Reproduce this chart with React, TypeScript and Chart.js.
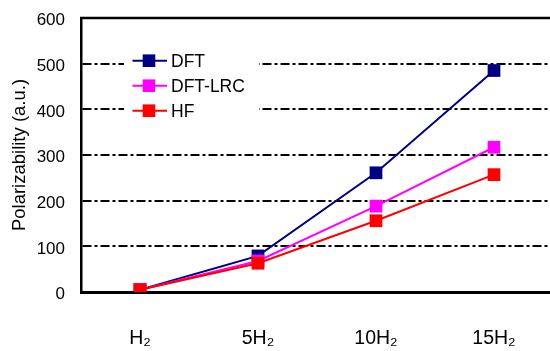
import React, { useEffect, useRef } from "react";
import { Chart, registerables } from "chart.js";

Chart.register(...registerables);

const categories = ["H\u2082", "5H\u2082", "10H\u2082", "15H\u2082"];
const seriesNames = ["DFT", "DFT-LRC", "HF"];
const dftValues = [5, 79, 261, 485];
const dftLrcValues = [5, 68, 188, 317];
const hfValues = [5, 63, 156, 257];
const seriesColors = ["#000080", "#FF00FF", "#FF0000"];
const yTicks = [0, 100, 200, 300, 400, 500, 600];
const yTitle = "Polarizability (a.u.)";

const FONT = "'Liberation Sans', Arial, sans-serif";

const topFrame = {
  id: "topFrame",
  beforeDatasetsDraw(chart: any) {
    const { ctx, chartArea } = chart;
    ctx.save();
    ctx.strokeStyle = "#000";
    ctx.lineWidth = 2.5;
    ctx.setLineDash([]);
    ctx.beginPath();
    ctx.moveTo(chartArea.left - 1, chartArea.top);
    ctx.lineTo(chartArea.right, chartArea.top);
    ctx.stroke();
    ctx.restore();
  },
};

const insideLegend = {
  id: "insideLegend",
  afterDraw(chart: any) {
    const { ctx, chartArea } = chart;
    const left = chartArea.left;
    const top = chartArea.top;
    ctx.save();
    ctx.fillStyle = "#ffffff";
    ctx.fillRect(left + 43, top + 27, 135, 97);
    chart.data.datasets.forEach((ds: any, i: number) => {
      const cy = top + 42.7 + i * 25;
      ctx.strokeStyle = ds.borderColor;
      ctx.lineWidth = 2;
      ctx.beginPath();
      ctx.moveTo(left + 51.5, cy);
      ctx.lineTo(left + 86, cy);
      ctx.stroke();
      ctx.fillStyle = ds.backgroundColor;
      ctx.fillRect(left + 68 - 6.3, cy - 6.3, 12.6, 12.6);
      ctx.fillStyle = "#000";
      ctx.font = `17.5px ${FONT}`;
      ctx.textBaseline = "middle";
      ctx.textAlign = "left";
      ctx.fillText(ds.label, left + 90, cy + 1);
    });
    ctx.restore();
  },
};

export default function App() {
  const canvasRef = useRef<HTMLCanvasElement | null>(null);

  useEffect(() => {
    const canvas = canvasRef.current;
    if (!canvas) return;
    const allValues = [dftValues, dftLrcValues, hfValues];
    const orders = [3, 2, 1];
    const chart = new Chart(canvas, {
      type: "line",
      data: {
        labels: categories,
        datasets: allValues.map((vals, i) => ({
          label: seriesNames[i],
          data: vals,
          borderColor: seriesColors[i],
          backgroundColor: seriesColors[i],
          pointBackgroundColor: seriesColors[i],
          pointBorderColor: seriesColors[i],
          pointBorderWidth: 0,
          pointStyle: "rect",
          pointRadius: 9,
          borderWidth: 2,
          tension: 0,
          order: orders[i],
        })),
      },
      options: {
        responsive: false,
        animation: false,
        devicePixelRatio: 1,
        layout: { padding: { left: 0, right: 9, top: 18, bottom: 0 } },
        plugins: {
          legend: { display: false },
          tooltip: { enabled: false },
        },
        scales: {
          x: {
            type: "category",
            position: "bottom",
            offset: true,
            grid: {
              display: true,
              drawOnChartArea: false,
              drawTicks: true,
              tickLength: 35,
              tickColor: "rgba(0,0,0,0)",
              tickWidth: 0,
              color: "rgba(0,0,0,0)",
            },
            border: { display: true, color: "#000", width: 3 },
            ticks: {
              color: "#000",
              font: { family: FONT, size: 19.5 },
              padding: 0,
              maxRotation: 0,
            },
            afterFit: (scale: any) => {
              scale.height = 59;
            },
          },
          y: {
            min: 0,
            max: 600,
            afterBuildTicks: (scale: any) => {
              scale.ticks = yTicks.map((v) => ({ value: v }));
            },
            grid: {
              drawTicks: true,
              tickLength: 16,
              tickColor: "rgba(0,0,0,0)",
              tickWidth: 0,
              color: "#000",
              lineWidth: (ctx: any) => {
                const v = ctx.tick ? ctx.tick.value : null;
                if (v === 0 || v === 600) return 0;
                return 2;
              },
            },
            border: {
              display: true,
              color: "#000",
              width: 2.5,
              dash: (ctx: any) => (ctx.tick ? [9, 3, 3, 3] : []),
            },
            ticks: {
              color: "#000",
              font: { family: FONT, size: 17 },
              padding: 0,
              labelOffset: 2.5,
            },
            title: {
              display: true,
              text: yTitle,
              color: "#000",
              font: { family: FONT, size: 18.5 },
              padding: { top: 8.5, bottom: 0 },
            },
            afterFit: (scale: any) => {
              scale.width = 81;
            },
          },
        },
      },
      plugins: [topFrame, insideLegend],
    } as any);
    return () => chart.destroy();
  }, []);

  return (
    <div
      style={{
        position: "absolute",
        left: 0,
        top: 0,
        width: 550,
        height: 351,
        overflow: "hidden",
        background: "#fff",
      }}
    >
      <canvas ref={canvasRef} width={562} height={351} style={{ display: "block" }} />
    </div>
  );
}
